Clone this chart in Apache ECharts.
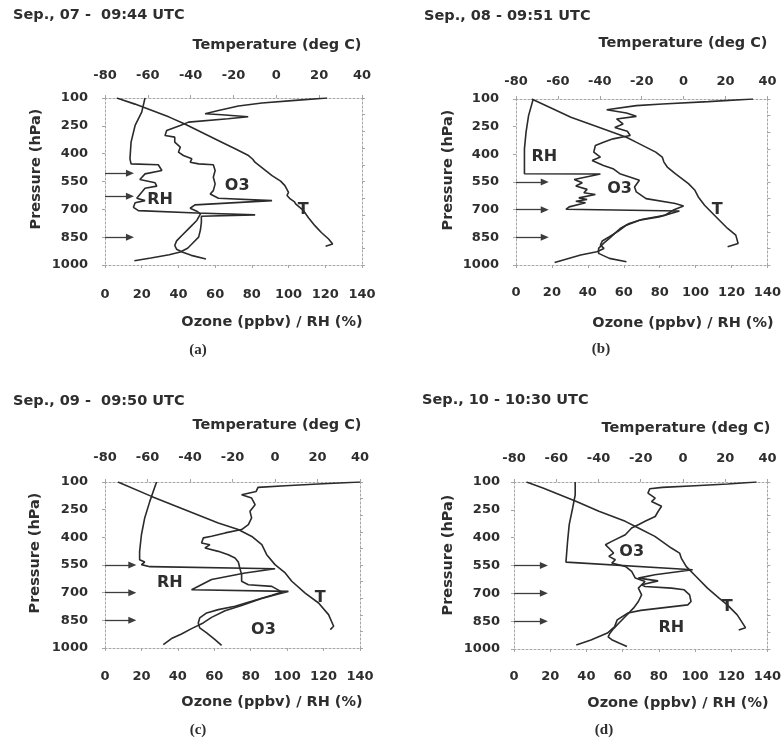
<!DOCTYPE html>
<html>
<head>
<meta charset="utf-8">
<script src="https://cdn.jsdelivr.net/npm/echarts@6/dist/echarts.min.js"></script>
<style>
html,body{margin:0;padding:0;background:#fff;}
#chart{width:784px;height:750px;}
</style>
</head>
<body>
<div id="chart"></div>
<script>
// Axis ticks
const ozoneTicks = [0, 20, 40, 60, 80, 100, 120, 140];
const tempTicks = [-80, -60, -40, -20, 0, 20, 40];
const pressureTicks = [100, 250, 400, 550, 700, 850, 1000];

const panelTitles = ['Sep., 07 -  09:44 UTC', 'Sep., 08 - 09:51 UTC', 'Sep., 09 -  09:50 UTC', 'Sep., 10 - 10:30 UTC'];
const panelTags = ['(a)', '(b)', '(c)', '(d)'];

// Sounding profiles: temperature as [deg C, hPa], ozone as [ppbv, hPa], RH as [%, hPa]
const tempA = [[-74.5,100],[-66,133],[-58,167],[-50,203],[-43,239],[-34,290],[-25.5,338],[-19,375],[-13,410],[-11,430],[-10,446],[-6,482],[-2,518],[2,548],[4,572],[5.7,608],[5,625],[6.5,644],[8.5,660],[9,671],[12.7,707],[15,745],[18,788],[21,825],[24.4,860],[26.3,887],[23,899]];
const ozoneA = [[121,100],[103.6,113],[85.5,127],[72.7,143],[61.8,167],[54.5,185],[63.6,190],[78,201],[67,212],[45.5,230],[41,248],[33.6,275],[32.7,302],[38,311],[38,338],[41,365],[40,392],[42.7,410],[47.3,428],[46.4,446],[51,455],[59,460],[60,491],[59,527],[60,563],[59,599],[57.3,617],[61.8,640],[91,653],[49,676],[46.4,694],[50,710],[52,725],[50,760],[46,800],[42,840],[39,870],[38,895],[39,915],[42,930],[47,948],[55,968]];
const rhA = [[21.8,100],[20,176],[16.4,248],[14.2,338],[13.6,428],[14.2,455],[29,460],[31,491],[21.8,509],[19,539],[27.3,557],[28.2,575],[21.8,586],[20,608],[17.3,640],[21.8,653],[16.4,665],[15.5,689],[18.2,707],[50,720],[81.8,730],[52.5,737],[52.5,770],[52,810],[51,850],[48,880],[45,910],[41,930],[35,945],[25,962],[16,977]];

const tempB = [[-72.5,100],[-63,150],[-53.8,199],[-38.2,262],[-27.3,307],[-22.7,334],[-13.3,388],[-10.2,415],[-9.4,442],[-7.8,469],[-4,505],[2.3,559],[5.4,595],[7,631],[10,676],[14.7,730],[21,802],[24.9,838],[26,883],[21,901]];
const ozoneB = [[132,100],[107,114],[81.5,127],[67,136],[50.5,158],[61.5,176],[67,194],[56,208],[59.6,235],[55,255],[62,275],[63.6,298],[54,316],[48.7,334],[44.2,352],[43.3,388],[47,415],[42.4,433],[48.7,460],[54,478],[57.8,505],[63.3,523],[68.7,541],[66,577],[67,604],[72.4,640],[88.7,667],[93.3,680],[88,700],[83,730],[70.5,752],[63,775],[58,802],[55,829],[52,856],[48.7,883],[46,910],[46,937],[52,964],[61.5,982]];
const rhB = [[9.6,100],[7,190],[5.6,280],[4.7,370],[4.7,460],[4.7,505],[47,507],[32.4,536],[36.9,554],[33.3,572],[39.6,590],[37.8,608],[44.2,618],[35,636],[39.6,645],[33.3,654],[38.7,663],[29.6,685],[27.8,698],[55,702],[91,707],[79.6,739],[68.7,757],[61.5,784],[57,816],[52,847],[48,870],[47,892],[49,910],[45,928],[36,946],[21.5,986]];

const tempC = [[-73.9,100],[-58.1,178],[-42.4,250],[-26.7,322],[-17.3,358],[-10.9,395],[-6.2,440],[-3.9,494],[0,548],[4.8,593],[7.9,638],[14.2,702],[20.5,756],[25.2,819],[27.6,882],[26,900]];
const ozoneC = [[140,100],[117,111],[99,120],[84,129],[83,151],[75,169],[80.5,187],[82.4,223],[79.6,259],[80.5,295],[78.7,331],[75,358],[66,376],[58.5,394],[54,403],[53,431],[57.6,440],[54.9,458],[62.2,476],[67.7,494],[71.4,512],[73.2,534],[74,566],[75,602],[75,638],[78.7,657],[91.6,666],[97.2,697],[91.6,714],[80.5,747],[71.4,774],[62.2,792],[55.8,810],[52,837],[51.2,864],[52,891],[55.8,918],[60.4,955],[64,986]];
const rhC = [[28.3,100],[24.6,205],[21.8,295],[20,386],[19,476],[19,521],[21.8,534],[20,548],[24.6,559],[93.4,570],[76.9,593],[58.5,629],[49.4,675],[47.5,684],[100.7,693],[95.2,707],[86,732],[75,769],[65.9,798],[58.5,834],[53.9,864],[47.5,895],[42,924],[36.5,949],[32,982]];

const tempD = [[-74.1,100],[-66.3,132],[-50.7,204],[-39.8,258],[-27.3,312],[-21.1,348],[-13.3,393],[-5.5,456],[-1.6,483],[-0.8,510],[1.5,555],[6.2,609],[11.6,672],[17.1,726],[21,762],[25.7,816],[29.6,885],[26.4,897]];
const ozoneD = [[134,100],[118,111],[100,120],[82,129],[75,136],[74,160],[78,187],[76,205],[81.5,231],[79.6,259],[78,286],[72.4,312],[68.7,330],[65,348],[61.5,384],[54,420],[50.5,438],[52.4,456],[55,483],[52.4,501],[56,519],[54,537],[61.5,555],[65,582],[67,618],[72.4,636],[70.5,654],[68.7,672],[70.5,708],[68.7,744],[66,780],[64,800],[61,830],[58,860],[55,890],[53,915],[52,935],[54,950],[58,968],[62.4,987]];
const rhD = [[33.8,100],[33.8,170],[32.4,240],[30.5,330],[29.6,420],[28.7,532],[98.7,573],[77.8,600],[68.7,618],[79.6,633],[70.5,654],[72.4,663],[87,672],[94,681],[97,708],[97.8,744],[96,762],[83,777],[70,792],[63,806],[57,843],[55.5,881],[51.6,914],[42.5,951],[34.4,978]];

// Pressure levels marked with arrows
const arrowsA = [505, 630, 850];
const arrowsB = [550, 700, 850];
const arrowsC = [550, 700, 850];
const arrowsD = [550, 700, 850];

// Curve name anchors: O3 and RH in ppbv/% units, T in deg C
const tagsO3 = [[72, 575], [57.7, 586], [87, 900], [65, 475]];
const tagsRH = [[30, 651], [15.8, 413], [35.6, 648], [86.9, 888]];
const tagsT = [[12.6, 705], [16, 700], [21.3, 729], [21, 772]];

const temps = [tempA, tempB, tempC, tempD];
const ozones = [ozoneA, ozoneB, ozoneC, ozoneD];
const rhs = [rhA, rhB, rhC, rhD];
const arrows = [arrowsA, arrowsB, arrowsC, arrowsD];

// Panel layout
const layout = [
  {left: 105, top: 98, width: 257, height: 167, topMargin: 16, botMargin: 23, yMargin: 17, arrowEnd: 13.6,
   title: [13, 15], tempName: [277, 45], ozName: [272, 322], tag: [198, 350], pName: [36, 169]},
  {left: 516, top: 99, width: 256, height: 166, topMargin: 11, botMargin: 21, yMargin: 17, arrowEnd: 16,
   title: [424, 16], tempName: [683, 43], ozName: [683, 323], tag: [601, 349], pName: [448, 170]},
  {left: 105, top: 482, width: 255, height: 166, topMargin: 18, botMargin: 22, yMargin: 17, arrowEnd: 15,
   title: [13, 401], tempName: [277, 425], ozName: [272, 702], tag: [198, 730], pName: [35, 553]},
  {left: 514, top: 482, width: 257, height: 167, topMargin: 17, botMargin: 21, yMargin: 14, arrowEnd: 16.5,
   title: [422, 400], tempName: [686, 428], ozName: [678, 703], tag: [604, 730], pName: [448, 555]}
];

const INK = '#2e2e2e';
const FRAME = '#a5a5a5';
const FONT = 'DejaVu Sans';
const lineStyle = {color: '#2b2b2b', width: 1.6};

const grids = [], xAxes = [], yAxes = [], series = [], graphics = [];

layout.forEach((L, i) => {
  grids.push({left: L.left, top: L.top, width: L.width, height: L.height, containLabel: false});
  const labelStyle = {color: INK, fontSize: 13, fontWeight: 'bold', fontFamily: FONT, formatter: v => String(v)};
  const frameLine = {show: true, onZero: false, lineStyle: {color: FRAME, width: 1, type: [2, 2]}};
  const tick = {show: true, length: 3, inside: false, lineStyle: {color: FRAME}};
  xAxes.push({gridIndex: i, type: 'value', position: 'bottom',
    min: ozoneTicks[0], max: ozoneTicks[ozoneTicks.length - 1], interval: ozoneTicks[1] - ozoneTicks[0],
    axisLine: frameLine, axisTick: tick, splitLine: {show: false},
    axisLabel: Object.assign({margin: L.botMargin}, labelStyle)});
  xAxes.push({gridIndex: i, type: 'value', position: 'top',
    min: tempTicks[0], max: tempTicks[tempTicks.length - 1], interval: tempTicks[1] - tempTicks[0],
    axisLine: frameLine, axisTick: tick, splitLine: {show: false},
    axisLabel: Object.assign({margin: L.topMargin}, labelStyle)});
  yAxes.push({gridIndex: i, type: 'value', position: 'left', inverse: true,
    min: pressureTicks[0], max: pressureTicks[pressureTicks.length - 1], interval: pressureTicks[1] - pressureTicks[0],
    axisLine: frameLine, axisTick: tick, splitLine: {show: false},
    axisLabel: Object.assign({margin: L.yMargin}, labelStyle)});
  yAxes.push({gridIndex: i, type: 'value', position: 'right', inverse: true,
    min: pressureTicks[0], max: pressureTicks[pressureTicks.length - 1], interval: 90,
    axisLine: frameLine, axisTick: {show: true, length: 3, inside: false, lineStyle: {color: FRAME}},
    splitLine: {show: false}, axisLabel: {show: false}});

  const bx = 2 * i, tx = 2 * i + 1, ly = 2 * i;
  series.push({type: 'line', name: 'T', xAxisIndex: tx, yAxisIndex: ly, data: temps[i],
    showSymbol: false, symbol: 'none', lineStyle: lineStyle, clip: true, z: 3});
  series.push({type: 'line', name: 'O3', xAxisIndex: bx, yAxisIndex: ly, data: ozones[i],
    showSymbol: false, symbol: 'none', lineStyle: lineStyle, clip: true, z: 3});
  series.push({type: 'line', name: 'RH', xAxisIndex: bx, yAxisIndex: ly, data: rhs[i],
    showSymbol: false, symbol: 'none', lineStyle: lineStyle, clip: true, z: 3,
    markLine: {silent: true, animation: false, symbol: ['none', 'triangle'], symbolSize: [7, 8],
      label: {show: false}, lineStyle: {color: '#3c3c3c', width: 1.3, type: 'solid'},
      data: arrows[i].map(p => [{coord: [0, p]}, {coord: [L.arrowEnd, p]}])}});
  const tagLabel = {show: true, position: 'inside', formatter: p => p.name,
    color: INK, fontSize: 16, fontWeight: 'bold', fontFamily: FONT, opacity: 1};
  series.push({type: 'scatter', xAxisIndex: bx, yAxisIndex: ly, symbolSize: 1, silent: true,
    itemStyle: {color: 'transparent'}, label: tagLabel, z: 5,
    data: [{name: 'O3', value: tagsO3[i]}, {name: 'RH', value: tagsRH[i]}]});
  series.push({type: 'scatter', xAxisIndex: tx, yAxisIndex: ly, symbolSize: 1, silent: true,
    itemStyle: {color: 'transparent'}, label: tagLabel, z: 5,
    data: [{name: 'T', value: tagsT[i]}]});

  const txt = (x, y, text, font, align, rot) => ({type: 'text', x: x, y: y, rotation: rot || 0, silent: true,
    style: {text: text, fill: INK, font: font, textAlign: align, textVerticalAlign: 'middle', align: align, verticalAlign: 'middle'}});
  graphics.push(txt(L.title[0], L.title[1], panelTitles[i], 'bold 14.5px "DejaVu Sans"', 'left'));
  graphics.push(txt(L.tempName[0], L.tempName[1], 'Temperature (deg C)', 'bold 14.5px "DejaVu Sans"', 'center'));
  graphics.push(txt(L.ozName[0], L.ozName[1], 'Ozone (ppbv) / RH (%)', 'bold 14.5px "DejaVu Sans"', 'center'));
  graphics.push(txt(L.pName[0], L.pName[1], 'Pressure (hPa)', 'bold 14.5px "DejaVu Sans"', 'center', Math.PI / 2));
  graphics.push(txt(L.tag[0], L.tag[1], panelTags[i], 'bold 15px "Liberation Serif"', 'center'));
});

const chart = echarts.init(document.getElementById('chart'), null, {renderer: 'canvas'});
chart.setOption({
  animation: false,
  backgroundColor: '#fff',
  grid: grids, xAxis: xAxes, yAxis: yAxes, series: series, graphic: graphics
});
</script>
</body>
</html>
